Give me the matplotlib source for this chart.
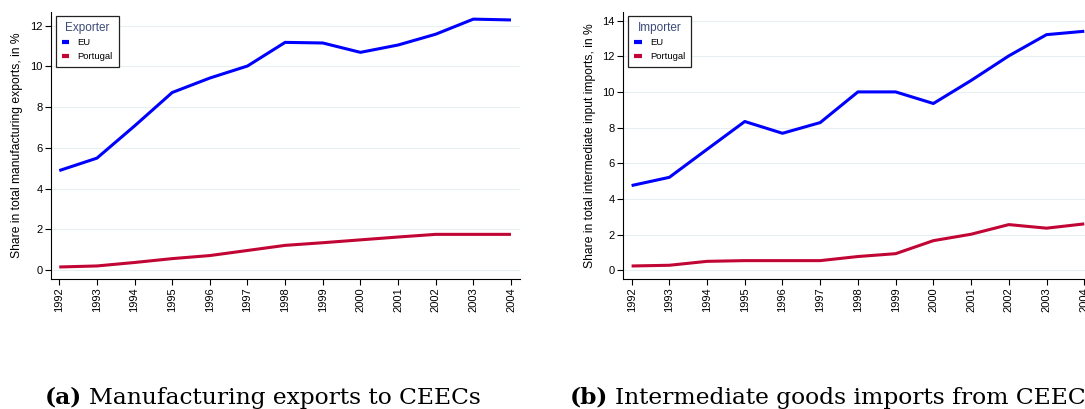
import matplotlib
matplotlib.use("Agg")
import matplotlib.pyplot as plt

# Years and shares (in %) for both panels
years = [1992, 1993, 1994, 1995, 1996, 1997, 1998, 1999, 2000, 2001, 2002, 2003, 2004]

exports_eu = [4.89, 5.50, 7.08, 8.72, 9.43, 10.02, 11.18, 11.15, 10.69, 11.05, 11.58, 12.32, 12.28]
exports_pt = [0.16, 0.21, 0.38, 0.57, 0.72, 0.97, 1.22, 1.35, 1.49, 1.63, 1.76, 1.76, 1.76]

imports_eu = [4.75, 5.21, 6.78, 8.34, 7.68, 8.28, 10.0, 10.0, 9.35, 10.64, 12.02, 13.21, 13.40]
imports_pt = [0.24, 0.28, 0.50, 0.54, 0.54, 0.54, 0.77, 0.93, 1.66, 2.02, 2.56, 2.36, 2.60]

series_labels = ["EU", "Portugal"]

BLUE = "#0000ff"
CRANBERRY = "#c10534"
GRID = "#e8eff2"

plt.rcParams["font.family"] = ["Liberation Sans", "DejaVu Sans"]

fig = plt.figure(figsize=(10.85, 4.09), dpi=100)


def caption(x, tag, text):
    # bold panel tag followed by the plain caption text
    t = fig.text(x, 0.013, tag, fontsize=16.8, family="DejaVu Serif",
                 fontweight="bold", ha="left", va="baseline")
    fig.canvas.draw()
    bb = t.get_window_extent().transformed(fig.transFigure.inverted())
    fig.text(bb.x1 + 0.006, 0.013, text, fontsize=16.8, family="DejaVu Serif",
             ha="left", va="baseline")


def panel(rect, eu, pt, yticks, ylim, ylabel, legend_title):
    ax = fig.add_axes(rect)
    ax.plot(years, eu, color=BLUE, lw=2.2, label=series_labels[0], solid_capstyle="butt")
    ax.plot(years, pt, color=CRANBERRY, lw=2.2, label=series_labels[1], solid_capstyle="butt")
    ax.set_xlim(1991.78, 2004.24)
    ax.set_ylim(*ylim)
    ax.set_xticks(years)
    ax.set_xticklabels([str(y) for y in years], rotation=90, fontsize=8)
    ax.set_yticks(yticks)
    ax.set_yticklabels([str(t) for t in yticks], fontsize=8)
    ax.tick_params(direction="out", length=4, width=0.8, color="black", pad=2)
    ax.yaxis.grid(True, color=GRID, lw=0.8)
    ax.set_axisbelow(True)
    for side in ("top", "right"):
        ax.spines[side].set_visible(False)
    for side in ("left", "bottom"):
        ax.spines[side].set_linewidth(0.8)
    ax.set_ylabel(ylabel, fontsize=8.7, labelpad=5)
    leg = ax.legend(loc="upper left", bbox_to_anchor=(0.0107, 0.985), borderaxespad=0,
                    title=legend_title, fontsize=6.8, title_fontsize=8.5,
                    handlelength=0.8, handletextpad=0.9, labelspacing=0.5,
                    fancybox=False, framealpha=1, edgecolor="#222222",
                    borderpad=0.6)
    leg.get_frame().set_linewidth(0.9)
    leg.get_title().set_color("#3c4a78")
    for h in leg.get_lines():
        h.set_linewidth(3)
        h.set_solid_capstyle("butt")
    return ax


panel([51 / 1085, 130 / 409, 469 / 1085, 267 / 409],
      exports_eu, exports_pt, [0, 2, 4, 6, 8, 10, 12], (-0.43, 12.67),
      "Share in total manufacturing exports, in %", "Exporter")

panel([623.3 / 1085, 130 / 409, 470 / 1085, 267 / 409],
      imports_eu, imports_pt, [0, 2, 4, 6, 8, 10, 12, 14], (-0.49, 14.48),
      "Share in total intermediate input imports, in %", "Importer")

caption(45 / 1085, "(a)", "Manufacturing exports to CEECs")
caption(570 / 1085, "(b)", "Intermediate goods imports from CEECs")

fig.savefig("out.png", dpi=100, facecolor="white")
